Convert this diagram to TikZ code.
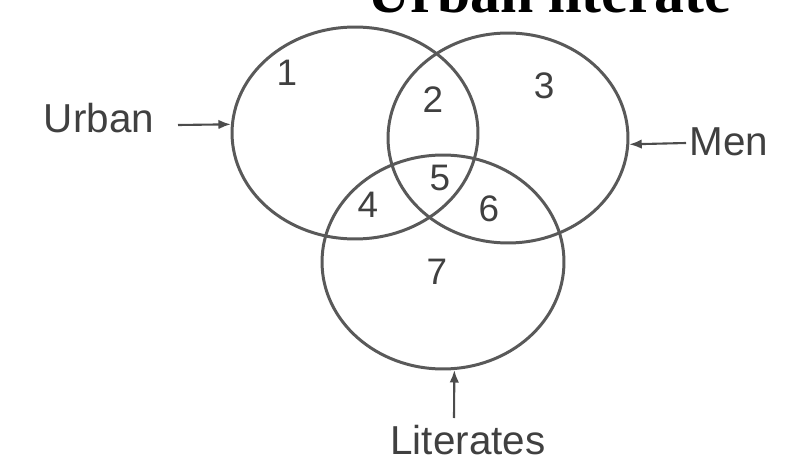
\documentclass[tikz,border=0pt]{standalone}
\usepackage{fontspec}
\setmainfont{Liberation Sans}
\newfontfamily\titlefont{Liberation Serif}
\usetikzlibrary{arrows.meta,shapes.geometric}
\tikzset{font=\fontsize{21}{25}\selectfont}
\tikzset{every node/.append style={text=black!75}}
\tikzset{set/.style={ellipse,draw=black!65,line width=1.7pt,inner sep=0pt}}
\tikzset{lbl/.style={font=\fontsize{23}{27}\selectfont}}
\tikzset{arr/.style={black!70,line width=1.2pt,-{Latex[length=0.25cm,width=0.19cm]}}}

\begin{document}
\begin{tikzpicture}[x=0.02cm,y=0.02cm]
  \useasboundingbox (0,0) rectangle (800,470);
  % title, cut off by the top edge
  \node[anchor=base east,text=black,font=\titlefont\bfseries\fontsize{34}{40}\selectfont]
        (title) at (737,457) {Urban literate};
  % the three sets
  \node[set,minimum width=4.92cm,minimum height=4.24cm] (urban) at (355,337) {};
  \node[set,minimum width=4.80cm,minimum height=4.20cm] (men) at (508,332) {};
  \node[set,minimum width=4.84cm,minimum height=4.28cm] (lit) at (443,208) {};
  % regions
  \node (r1) at (287,397) {1};
  \node (r2) at (433,370) {2};
  \node (r3) at (544,384) {3};
  \node (r4) at (368,265) {4};
  \node (r5) at (440,292) {5};
  \node (r6) at (489,261) {6};
  \node (r7) at (437,198) {7};
  % labels
  \node[lbl] (urbantxt) at (99,352) {Urban};
  \node[lbl] (mentxt) at (729,328) {Men};
  \node[lbl] (littxt) at (468,30) {Literates};
  \coordinate (urbanfoot) at (178,345);
  \coordinate (menfoot) at (686,327);
  \coordinate (litfoot) at (454,52);
\draw[arr] (urbanfoot) -- (urban.176);
\draw[arr] (menfoot) -- (men.-3);
\draw[arr] (litfoot) -- (lit.-84);
\end{tikzpicture}
\end{document}
